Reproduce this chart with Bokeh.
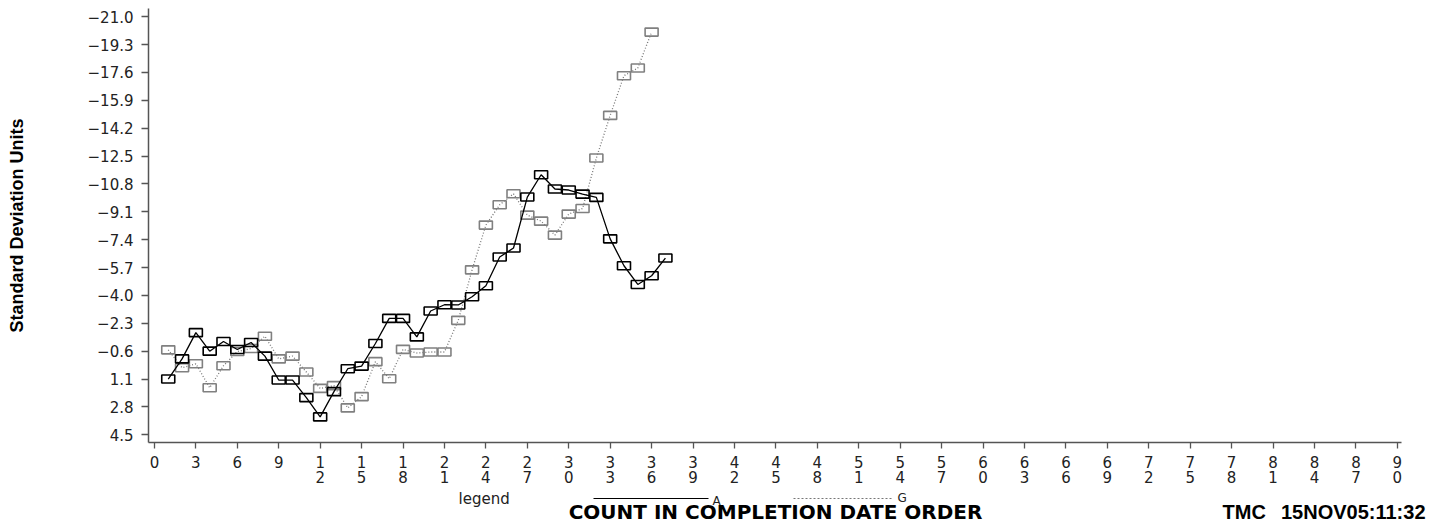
from bokeh.plotting import figure
from bokeh.layouts import column
from bokeh.models import Range1d, FixedTicker, CustomJSTickFormatter
from bokeh.core.properties import value
from bokeh.embed import file_html
from bokeh.resources import INLINE

# ---- data ----
count_a = list(range(1, 38))
series_a = [1.10, -0.13, -1.73, -0.60, -1.19, -0.70, -1.13, -0.30, 1.16, 1.16,
            2.23, 3.41, 1.87, 0.47, 0.31, -1.07, -2.60, -2.60, -1.47, -3.05,
            -3.43, -3.42, -3.92, -4.59, -6.34, -6.89, -10.00, -11.36, -10.49, -10.43,
            -10.18, -9.98, -7.45, -5.81, -4.67, -5.20, -6.28]
count_g = list(range(1, 37))
series_g = [-0.68, 0.41, 0.17, 1.63, 0.29, -0.58, -0.76, -1.51, -0.13, -0.30,
            0.67, 1.67, 1.50, 2.86, 2.17, 0.04, 1.08, -0.71, -0.49, -0.55,
            -0.55, -2.48, -5.56, -8.29, -9.53, -10.20, -8.90, -8.53, -7.68, -8.96,
            -9.30, -12.38, -14.98, -17.40, -17.87, -20.06]
y_ticks = [-21.0, -19.3, -17.6, -15.9, -14.2, -12.5, -10.8, -9.1, -7.4, -5.7,
           -4.0, -2.3, -0.6, 1.1, 2.8, 4.5]
x_ticks = list(range(0, 91, 3))
legend_title = "legend"
legend_names = ["A", "G"]
y_title = "Standard Deviation Units"
x_title = "COUNT IN COMPLETION DATE ORDER"
footer_left = "TMC"
footer_right = "15NOV05:11:32"

TICK_FONT = "DejaVu Sans"
AXIS_COLOR = "#555555"
W = 1435
H1 = 490
H2 = 33

p = figure(width=W, height=H1, output_backend="svg", toolbar_location=None,
           x_range=Range1d(-0.43, 90.3), y_range=Range1d(4.97, -21.5),
           min_border_left=148, min_border_right=34, min_border_top=8,
           min_border_bottom=48)
p.outline_line_color = None
p.grid.visible = False

# y axis
p.yaxis.ticker = FixedTicker(ticks=y_ticks)
p.yaxis.formatter = CustomJSTickFormatter(
    code="return (tick < -1e-9 ? '\u2212' : '') + Math.abs(tick).toFixed(1);")
p.yaxis.major_tick_out = 7
p.yaxis.major_tick_in = 0
p.yaxis.minor_tick_line_color = None
p.yaxis.major_label_standoff = 8
p.yaxis.axis_label = y_title
p.yaxis.axis_label_standoff = 58
p.yaxis.axis_label_text_font = "Liberation Sans"
p.yaxis.axis_label_text_font_style = "bold"
p.yaxis.axis_label_text_font_size = "18px"
p.yaxis.axis_label_text_color = "black"

# x axis
p.xaxis.ticker = FixedTicker(ticks=x_ticks)
p.xaxis.formatter = CustomJSTickFormatter(
    code="return String(tick).split('').join('\\n');")
p.xaxis.major_tick_out = 6
p.xaxis.major_tick_in = 0
p.xaxis.minor_tick_line_color = None
p.xaxis.major_label_standoff = 5
p.xaxis.major_label_text_line_height = 0.85

for ax in (p.xaxis, p.yaxis):
    ax.axis_line_color = AXIS_COLOR
    ax.axis_line_width = 1.5
    ax.major_tick_line_color = AXIS_COLOR
    ax.major_tick_line_width = 1.3
    ax.major_label_text_font = TICK_FONT
    ax.major_label_text_font_size = "15px"
    ax.major_label_text_color = "#222222"

# series G (grey dotted)
p.line(count_g, series_g, line_color="#777777", line_dash="1 2", line_width=1.3)
p.rect(x=count_g, y=series_g, width=13, height=8, width_units="screen",
       height_units="screen", fill_color=None, line_color="#808080", line_width=1.6)

# series A (black solid)
p.line(count_a, series_a, line_color="black", line_width=1.3)
p.rect(x=count_a, y=series_a, width=13, height=8, width_units="screen",
       height_units="screen", fill_color=None, line_color="black", line_width=1.6)

# ---- bottom strip: legend, x title, footer (pixel coordinates of the page) ----
q = figure(width=W, height=H2, output_backend="svg", toolbar_location=None,
           x_range=Range1d(0, W), y_range=Range1d(H1 + H2, H1),
           x_axis_type=None, y_axis_type=None, min_border=0, frame_align=False)
q.outline_line_color = None
q.grid.visible = False

q.text(x=[458], y=[498], text=[legend_title], text_align="left", text_baseline="middle",
       text_font=value(TICK_FONT), text_font_size="15px", text_color="#222222")
q.line(x=[593, 708], y=[498, 498], line_color="black", line_width=1)
q.text(x=[712], y=[500.5], text=[legend_names[0]], text_align="left", text_baseline="middle",
       text_font=value(TICK_FONT), text_font_size="12px", text_color="#222222")
q.line(x=[793, 893], y=[498, 498], line_color="#777777", line_dash="2 2", line_width=1)
q.text(x=[897], y=[497.5], text=[legend_names[1]], text_align="left", text_baseline="middle",
       text_font=value(TICK_FONT), text_font_size="12px", text_color="#222222")

q.text(x=[775], y=[511], text=[x_title], text_align="center", text_baseline="middle",
       text_font=value("DejaVu Sans"), text_font_style="bold", text_font_size="20px",
       text_color="black")
q.text(x=[1222], y=[511], text=[footer_left], text_align="left", text_baseline="middle",
       text_font=value("Liberation Sans"), text_font_style="bold", text_font_size="20px",
       text_color="black")
q.text(x=[1425], y=[511], text=[footer_right], text_align="right", text_baseline="middle",
       text_font=value("Liberation Sans"), text_font_style="bold", text_font_size="20px",
       text_color="black")

layout = column(p, q, spacing=0)
open("out.html", "w").write(file_html(layout, INLINE))
